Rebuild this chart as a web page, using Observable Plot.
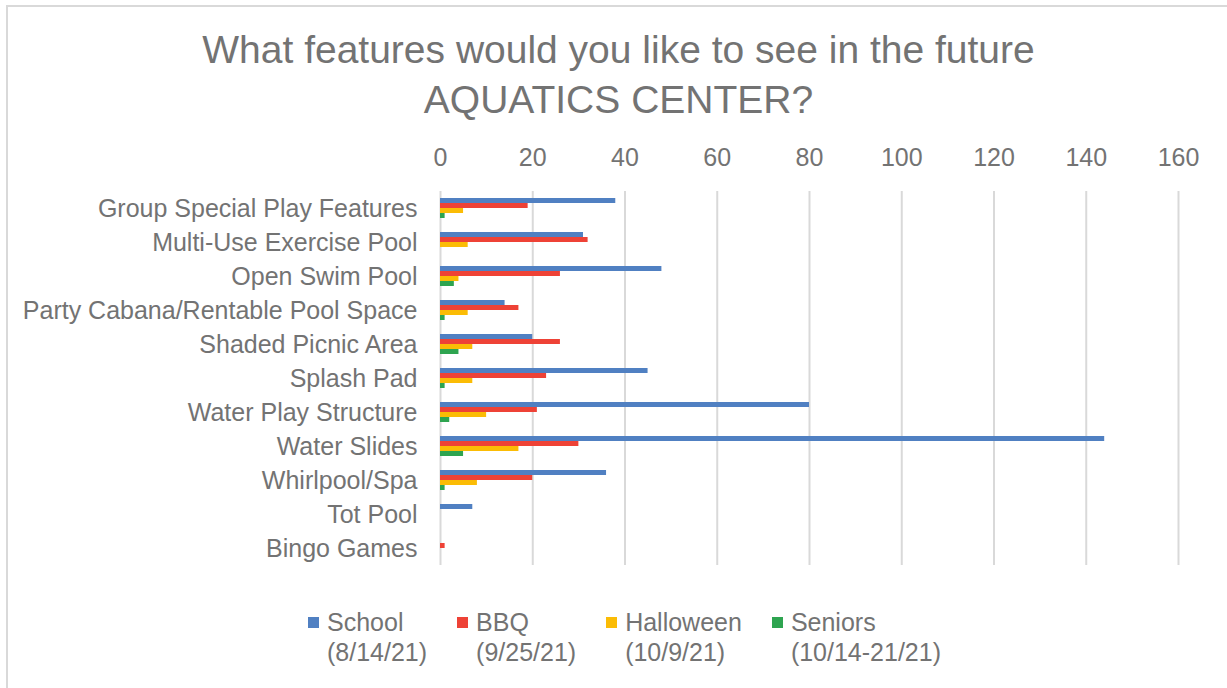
<!DOCTYPE html>
<html>
<head>
<meta charset="utf-8">
<script src="https://cdn.jsdelivr.net/npm/d3@7"></script>
<script src="https://cdn.jsdelivr.net/npm/@observablehq/plot@0.6"></script>
<style>
  html, body { margin: 0; padding: 0; background: #fff; }
  body { width: 1227px; height: 688px; position: relative; overflow: hidden;
         font-family: "Liberation Sans", Arial, sans-serif; color: #737373; }
  #frame { position: absolute; left: 6px; top: 5px; width: 1240px; height: 700px;
           border-left: 2px solid #d9d9d9; border-top: 2px solid #d9d9d9; }
  #title { position: absolute; left: 0; top: 25px; width: 1237px; text-align: center;
           font-size: 39px; line-height: 50px; }
  #chart { position: absolute; left: 0; top: 129px; }
  #legend { position: absolute; left: 308px; top: 607px; display: flex; gap: 30px;
            font-size: 25px; line-height: 30px; }
  .item { display: flex; align-items: flex-start; }
  .sw { width: 11px; height: 11px; margin-top: 10px; margin-right: 8px; }
</style>
</head>
<body>
<div id="frame"></div>
<div id="title">What features would you like to see in the future<br>AQUATICS CENTER?</div>
<div id="chart"></div>
<div id="legend"></div>
<script>
const categories = [
  "Group Special Play Features",
  "Multi-Use Exercise Pool",
  "Open Swim Pool",
  "Party Cabana/Rentable Pool Space",
  "Shaded Picnic Area",
  "Splash Pad",
  "Water Play Structure",
  "Water Slides",
  "Whirlpool/Spa",
  "Tot Pool",
  "Bingo Games"
];
const seriesNames = ["School", "BBQ", "Halloween", "Seniors"];
const seriesDates = ["(8/14/21)", "(9/25/21)", "(10/9/21)", "(10/14-21/21)"];
const seriesColors = ["#5080c2", "#ee4236", "#fbbc05", "#2ea450"];
const school    = [38, 31, 48, 14, 20, 45, 80, 144, 36, 7, 0];
const bbq       = [19, 32, 26, 17, 26, 23, 21, 30, 20, 0, 1];
const halloween = [5, 6, 4, 6, 7, 7, 10, 17, 8, 0, 0];
const seniors   = [1, 0, 3, 1, 4, 1, 2, 5, 1, 0, 0];
const xTicks = [0, 20, 40, 60, 80, 100, 120, 140, 160];

const values = [school, bbq, halloween, seniors];
const rows = [];
categories.forEach((c, i) => {
  seriesNames.forEach((s, j) => rows.push({category: c, series: s, value: values[j][i]}));
});

const plot = Plot.plot({
  width: 1227,
  height: 450,
  marginTop: 60,
  marginBottom: 13,
  marginLeft: 440,
  marginRight: 49,
  style: {fontFamily: "'Liberation Sans', Arial, sans-serif", fontSize: "25px", color: "#737373", background: "transparent"},
  facet: {data: rows, y: "category"},
  fy: {domain: categories, padding: 0, paddingInner: 0, paddingOuter: 0, axis: "left", label: null, tickSize: 0, tickPadding: 23},
  y: {domain: seriesNames, axis: null, paddingInner: 0, paddingOuter: 1},
  x: {domain: [0, 160], ticks: xTicks, axis: "top", grid: false, label: null, tickSize: 0, tickPadding: 26},
  color: {domain: seriesNames, range: seriesColors},
  marks: [
    Plot.ruleX(xTicks, {stroke: "#d9d9d9", strokeWidth: 2}),
    Plot.barX(rows, {x: "value", y: "series", fill: "series", inset: 0})
  ]
});
document.getElementById("chart").appendChild(plot);

const legend = document.getElementById("legend");
seriesNames.forEach((s, i) => {
  const item = document.createElement("div");
  item.className = "item";
  const sw = document.createElement("div");
  sw.className = "sw";
  sw.style.background = seriesColors[i];
  const t = document.createElement("div");
  t.innerHTML = s + "<br>" + seriesDates[i];
  item.appendChild(sw);
  item.appendChild(t);
  legend.appendChild(item);
});
</script>
</body>
</html>
